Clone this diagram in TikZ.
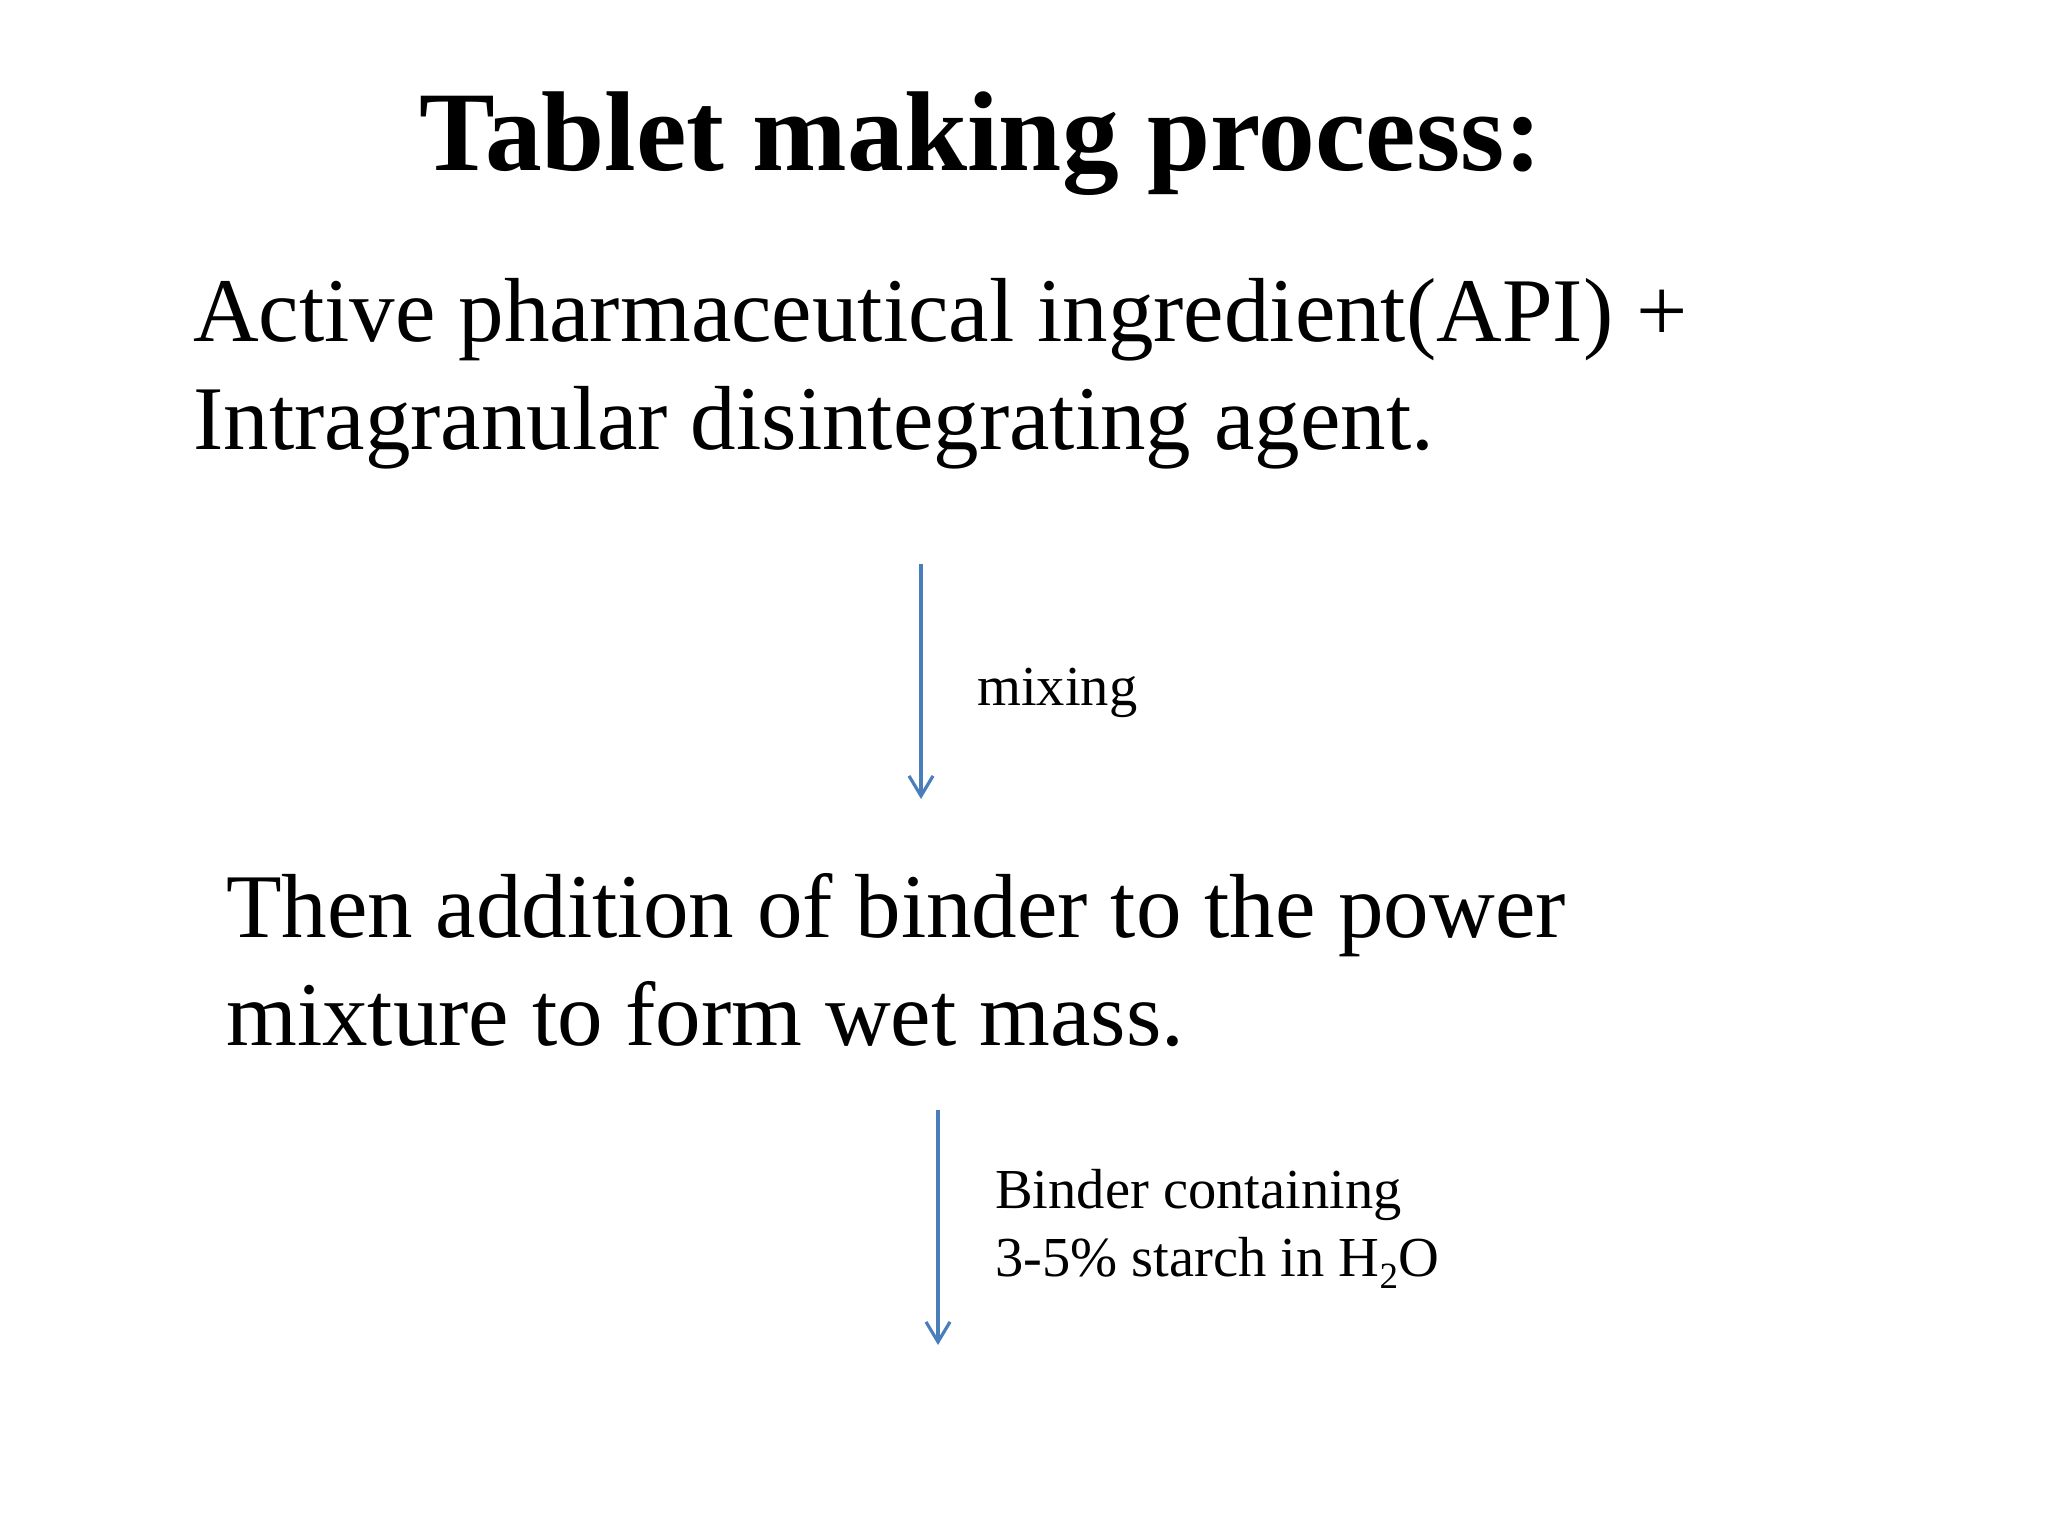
\documentclass[tikz,border=0pt]{standalone}
\usepackage{fontspec}
\setmainfont{Liberation Serif}
\usetikzlibrary{arrows.meta}
\definecolor{pptblue}{HTML}{4A7EBB}
\tikzset{
  titletext/.style={inner sep=0pt, anchor=base, font=\fontsize{113.5}{136}\selectfont\bfseries},
  bodytext/.style={inner sep=0pt, anchor=base west, align=left, font=\fontsize{91}{108}\selectfont},
  labeltext/.style={inner sep=0pt, anchor=base west, align=left, font=\fontsize{56.5}{68}\selectfont},
  flowarrow/.style={draw=pptblue, line width=3.2pt, -{Straight Barb[length=20pt,width=24pt,line width=3.2pt]}}
}
\begin{document}
\begin{tikzpicture}[x=1pt,y=-1pt]
\useasboundingbox[fill=white] (0,0) rectangle (2048,1536);
\node[titletext] (title) at (981,171) {Tablet making process:};
% multi-line nodes: base anchor sits on the last line
\node[bodytext] (api) at (193,449) {Active pharmaceutical ingredient(API) +\\Intragranular disintegrating agent.};
\node[bodytext] (binder) at (226,1045) {Then addition of binder to the power\\mixture to form wet mass.};
\node[labeltext] (mix) at (977,705) {mixing};
\node[labeltext] (starch) at (995,1276) {Binder containing\\3-5\% starch in H\raisebox{-0.22em}{\fontsize{37}{40}\selectfont 2}O};
\coordinate (a1s) at (921,564);
\coordinate (a1e) at (921,799);
\coordinate (a2s) at (938,1110);
\coordinate (a2e) at (938,1345);
\draw[flowarrow] (a1s) -- (a1e);
\draw[flowarrow] (a2s) -- (a2e);
\end{tikzpicture}
\end{document}
